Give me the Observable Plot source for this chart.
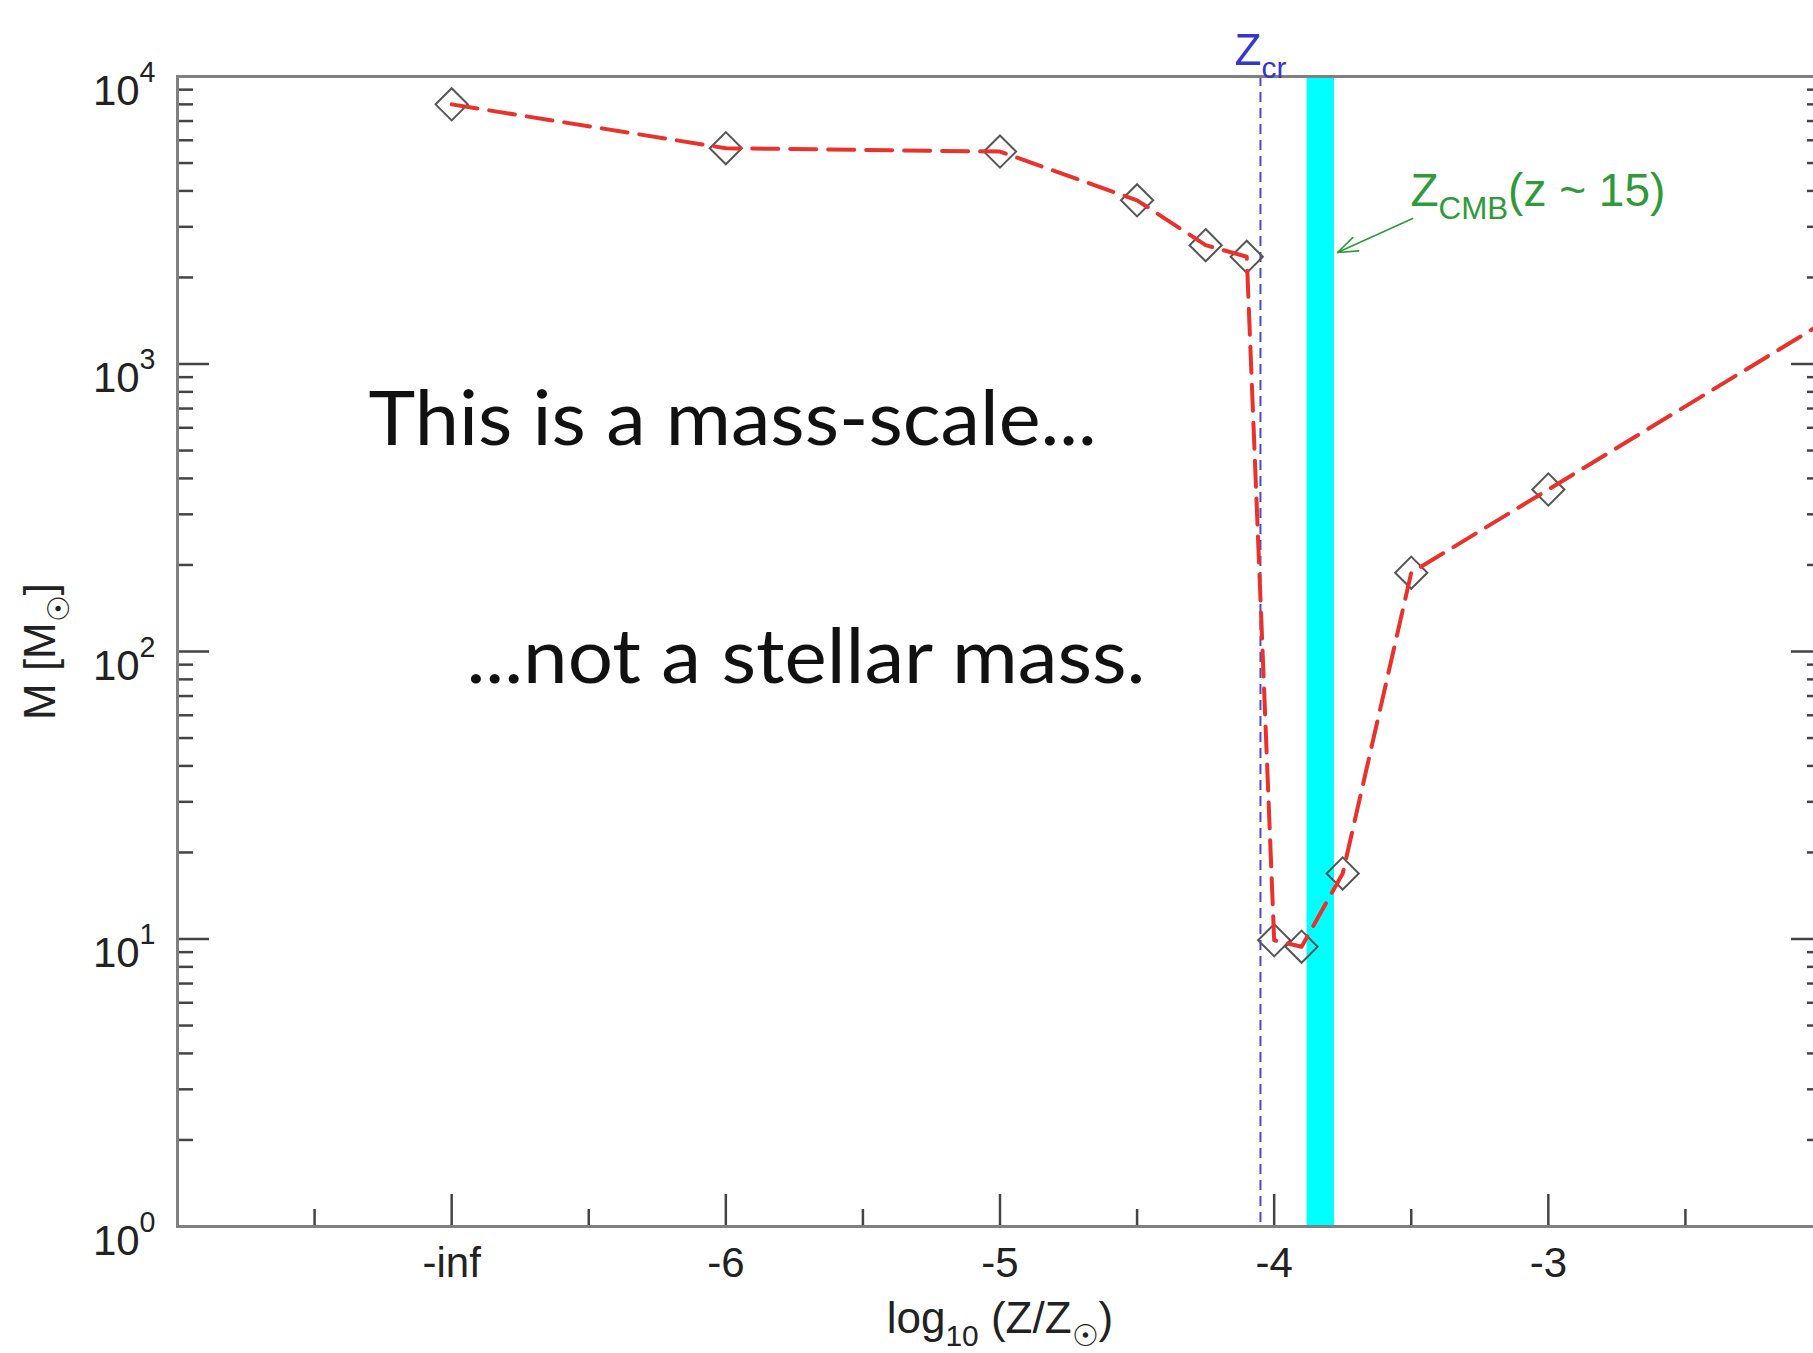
<!DOCTYPE html>
<html>
<head>
<meta charset="utf-8">
<script src="https://cdn.jsdelivr.net/npm/d3@7"></script>
<script src="https://cdn.jsdelivr.net/npm/@observablehq/plot@0.6"></script>
<style>
  html, body { margin: 0; padding: 0; background: #fff; overflow: hidden; }
  #chart svg { overflow: hidden; display: block; }
</style>
</head>
<body>
<div id="chart"></div>
<script>
// ---- data ----
const logZ      = [-7, -6, -5, -4.5, -4.25, -4.1, -4.0, -3.9, -3.75, -3.5, -3, -1.5];
const massScale = [8000, 5630, 5480, 3710, 2590, 2360, 9.9, 9.4, 16.9, 188, 366, 2700];
const zCrit = -4.05;
const zCmbRange = [-3.88, -3.78];

const xTickValues = [-7, -6, -5, -4, -3];
const xTickLabels = ["-inf", "-6", "-5", "-4", "-3"];
const xMinorTicks = [-7.5, -6.5, -5.5, -4.5, -3.5, -2.5];
const yMajorTicks = [1, 10, 100, 1000, 10000];
const yMinorTicks = [1, 10, 100, 1000].flatMap(p => [2, 3, 4, 5, 6, 7, 8, 9].map(k => k * p));

const points = logZ.map((x, i) => ({x, m: massScale[i]}));

const red = "#e8322b", blue = "#3636c8", green = "#2f9a3a", cyan = "#00ffff";
const axisFont = "Liberation Sans, Arial, Helvetica, sans-serif";

const chart = Plot.plot({
  width: 1813,
  height: 1353,
  marginLeft: 177,
  marginRight: -9,
  marginTop: 76,
  marginBottom: 127,
  x: {domain: [-8, -2]},
  y: {type: "log", domain: [1, 10000]},
  style: {fontFamily: axisFont, background: "white", overflow: "hidden", color: "#222"},
  marks: [
    Plot.rect([zCmbRange], {x1: d => d[0], x2: d => d[1], fill: cyan}),
    Plot.ruleX([zCrit], {stroke: blue, strokeWidth: 2, strokeDasharray: "10,6", strokeOpacity: 0.9}),
    Plot.dot(points, {x: "x", y: "m", symbol: "diamond2", r: 14.5, stroke: "#555", strokeWidth: 2, fill: "none", clip: true}),
    Plot.line(points, {x: "x", y: "m", stroke: red, strokeWidth: 4, strokeDasharray: "26,12", clip: true}),
    // inward ticks
    Plot.axisY({ticks: yMajorTicks, anchor: "left", tickSize: -32, tickFormat: () => "", label: null, stroke: "#444", strokeWidth: 2.5}),
    Plot.axisY({ticks: yMinorTicks, anchor: "left", tickSize: -16, tickFormat: () => "", label: null, stroke: "#444", strokeWidth: 2.5}),
    Plot.axisY({ticks: yMajorTicks, anchor: "right", tickSize: -32, tickFormat: () => "", label: null, stroke: "#444", strokeWidth: 2.5}),
    Plot.axisY({ticks: yMinorTicks, anchor: "right", tickSize: -16, tickFormat: () => "", label: null, stroke: "#444", strokeWidth: 2.5}),
    Plot.axisX({ticks: xTickValues, anchor: "bottom", tickSize: -32, tickFormat: () => "", label: null, stroke: "#444", strokeWidth: 2.5}),
    Plot.axisX({ticks: xMinorTicks, anchor: "bottom", tickSize: -17, tickFormat: () => "", label: null, stroke: "#444", strokeWidth: 2.5}),
    // tick labels
    Plot.axisY({ticks: yMajorTicks, anchor: "left", tickSize: 0, tickPadding: 22, dy: 15, fontSize: 42, fill: "#222",
      tickFormat: d => `10^{${Math.round(Math.log10(d))}}`, label: null}),
    Plot.axisX({ticks: xTickValues, anchor: "bottom", tickSize: 0, tickPadding: 21, fontSize: 42, fill: "#222",
      tickFormat: d => xTickLabels[xTickValues.indexOf(d)], label: null}),
    Plot.frame({stroke: "#808080", strokeWidth: 3}),
    // axis titles
    Plot.text(["log_{10} (Z/Z_{☉})"], {frameAnchor: "bottom", dy: 106, lineAnchor: "bottom", fontSize: 44, fill: "#222", text: d => d}),
    Plot.text(["M [M_{☉}]"], {x: -8.445, y: 100, rotate: -90, lineAnchor: "bottom", fontSize: 44, fill: "#222", text: d => d}),
    // annotations
    Plot.text([zCrit], {x: d => d, frameAnchor: "top", dy: -12, lineAnchor: "bottom", textAnchor: "middle", fontSize: 44, fill: blue, text: () => "Z_{cr}"}),
    Plot.text(["Z_{CMB}(z ~ 15)"], {x: -3.503, y: 3556, textAnchor: "start", lineAnchor: "bottom", fontSize: 46, fill: green, text: d => d}),
    Plot.arrow([zCmbRange], {x1: -3.495, y1: 3207, x2: -3.769, y2: 2443, stroke: green, strokeWidth: 1.6, headLength: 20, headAngle: 40}),
    Plot.text(["This is a mass-scale..."], {x: -7.303, y: 521, textAnchor: "start", lineAnchor: "bottom", fontSize: 76, fontFamily: "Lato", fill: "#111", text: d => d}),
    Plot.text(["...not a stellar mass."], {x: -6.946, y: 78, textAnchor: "start", lineAnchor: "bottom", fontSize: 76, fontFamily: "Lato", fill: "#111", text: d => d})
  ]
});

document.getElementById("chart").appendChild(chart);

// rich text: _{sub} and ^{sup}
const ns = "http://www.w3.org/2000/svg";
chart.querySelectorAll("text").forEach(t => {
  const s = t.textContent;
  if (!/[_^]\{/.test(s)) return;
  const fs = parseFloat(getComputedStyle(t).fontSize) || 40;
  const re = /([_^])\{([^}]*)\}|([^_^]+)/g;
  let m, shift = 0;
  t.textContent = "";
  while ((m = re.exec(s))) {
    const ts = document.createElementNS(ns, "tspan");
    let target = 0;
    if (m[1]) {
      target = m[1] === "_" ? 0.3 * fs : -0.55 * fs;
      ts.setAttribute("font-size", (0.68 * fs).toFixed(1));
      ts.textContent = m[2];
    } else {
      ts.textContent = m[3];
    }
    if (target - shift !== 0) ts.setAttribute("dy", (target - shift).toFixed(1));
    shift = target;
    t.appendChild(ts);
  }
});
// fit the slide text widths (narrow humanist face in the reference)
chart.querySelectorAll("text").forEach(t => {
  const s = t.textContent;
  if (s === "This is a mass-scale...") { t.setAttribute("textLength", 728); t.setAttribute("lengthAdjust", "spacingAndGlyphs"); }
  if (s === "...not a stellar mass.") { t.setAttribute("textLength", 679); t.setAttribute("lengthAdjust", "spacingAndGlyphs"); }
});
</script>
</body>
</html>
